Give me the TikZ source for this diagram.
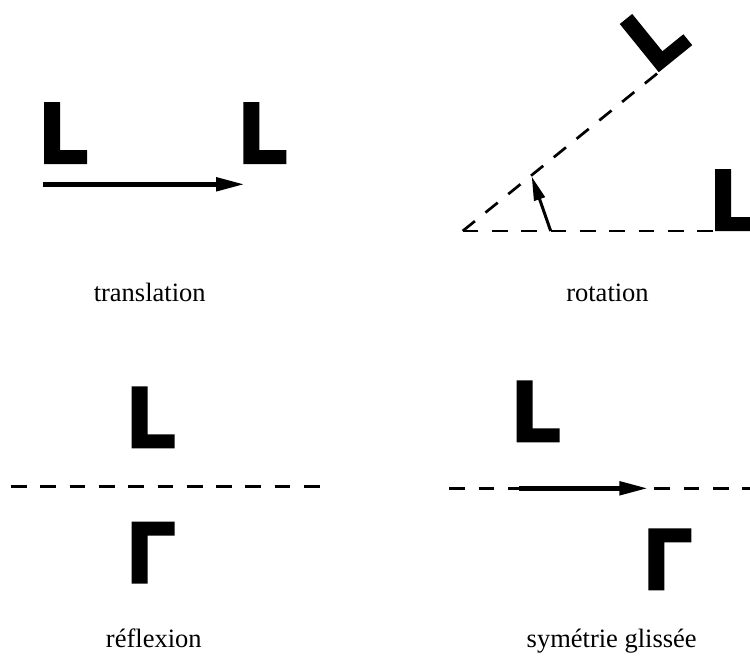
\documentclass[tikz,border=0pt]{standalone}
\usepackage{fontspec}
\setmainfont{Liberation Serif}
\usetikzlibrary{arrows.meta}
\tikzset{
  ell/.pic={\fill (0,0) -- (0,-62) -- (16,-62) -- (16,-14) -- (43,-14) -- (43,0) -- cycle;},
  axis/.style={line width=2.7pt, dash pattern=on 15.7pt off 13.6pt},
  bigarrow/.style={line width=5pt, -{Triangle[length=29pt,width=13pt]}},
  smallarrow/.style={line width=3pt, -{Triangle[length=24pt,width=11pt]}},
  caption/.style={font=\fontsize{26.5}{30}\selectfont, anchor=base, inner sep=0pt}
}
\begin{document}
\begin{tikzpicture}[x=1pt,y=-1pt]
\useasboundingbox (0,0) rectangle (750,656);
\clip (0,0) rectangle (750,656);

% translation
\pic at (44,164) {ell};
\pic at (243.3,164) {ell};
\coordinate (t1) at (43.3,184.3);
\coordinate (t2) at (245,184.3);
\draw[bigarrow] (t1) -- (t2);
\node[caption] (ltrans) at (149.7,301.7) {translation};

% rotation
\coordinate (o) at (462.7,231);
\coordinate (c1) at (715,231);
\coordinate (c2) at (658.8,72.2);
\draw[axis] (o) -- (c1);
\draw[axis] (o) -- (c2);
\pic at (c1) {ell};
\pic[rotate=39] at (c2) {ell};
\coordinate (r1) at (550.7,231);
\coordinate (r2) at (531.7,176.5);
\draw[smallarrow] (r1) -- (r2);
\node[caption] (lrot) at (607.5,301.7) {rotation};

% reflection
\coordinate (m1) at (11,486.7);
\coordinate (m2) at (321,486.7);
\draw[axis] (m1) -- (m2);
\pic at (131.7,448.3) {ell};
\pic[yscale=-1] at (131.7,521.7) {ell};
\node[caption] (lrefl) at (153.8,647.3) {réflexion};

% glide reflection
\coordinate (g1) at (449.3,488.3);
\coordinate (g2) at (760,488.3);
\draw[axis] (g1) -- (g2);
\coordinate (ga) at (519,488.3);
\coordinate (gb) at (648.3,488.3);
\draw[bigarrow] (ga) -- (gb);
\pic at (516.7,442.3) {ell};
\pic[yscale=-1] at (648.3,528.3) {ell};
\node[caption] (lglide) at (611.7,647) {symétrie glissée};
\end{tikzpicture}
\end{document}
